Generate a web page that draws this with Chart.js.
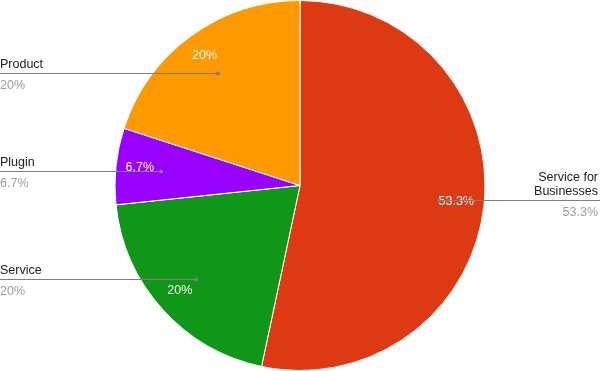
<!DOCTYPE html>
<html lang="en">
<head>
    <meta charset="UTF-8">
    <title>pie</title>
    <script src="https://cdn.jsdelivr.net/npm/chart.js"></script>
    <style>
        html, body { margin: 0; padding: 0; background: #fff; }
        #wrap { width: 600px; height: 371px; position: relative; }
    </style>
</head>
<body>
    <div id="wrap"><canvas id="pieChart"></canvas></div>

    <script>
        const labels = ['Service for Businesses', 'Service', 'Plugin', 'Product']
        const counts = [8, 3, 1, 3]
        const colors = ['#dd3912', '#109618', '#9900ff', '#ff9900']

        const total = counts.reduce((a, b) => a + b, 0)
        function pct(v) {
            const p = Math.round(v / total * 1000) / 10
            return p + '%'
        }

        // labels outside with leader lines, like the google chart
        const sideLabels = {
            id: 'sideLabels',
            afterDraw(chart) {
                const ctx = chart.ctx
                const arcs = chart.getDatasetMeta(0).data
                const w = chart.width
                ctx.save()
                ctx.font = '12.5px "Liberation Sans", Arial, sans-serif'
                arcs.forEach((arc, i) => {
                    const mid = (arc.startAngle + arc.endAngle) / 2
                    const r = arc.outerRadius
                    const cos = Math.cos(mid), sin = Math.sin(mid)

                    // percent inside slice
                    ctx.fillStyle = '#ffffff'
                    ctx.textAlign = 'center'
                    ctx.textBaseline = 'middle'
                    ctx.fillText(pct(counts[i]), arc.x + cos * r * 0.86 - 2, arc.y + sin * r * 0.86 - 1)

                    // leader line
                    const dx = arc.x + cos * r * 0.755
                    const dy = Math.round(arc.y + sin * r * 0.755) + 0.5
                    const right = cos > 0
                    ctx.strokeStyle = '#7f7f7f'
                    ctx.lineWidth = 1
                    ctx.beginPath()
                    ctx.moveTo(dx, dy)
                    ctx.lineTo(right ? w : 0, dy)
                    ctx.stroke()
                    ctx.fillStyle = '#7f7f7f'
                    ctx.beginPath()
                    ctx.arc(dx, dy, 2, 0, Math.PI * 2)
                    ctx.fill()

                    // name and value
                    ctx.textAlign = right ? 'right' : 'left'
                    const tx = right ? w - 2 : 0
                    const words = labels[i] === 'Service for Businesses' ? ['Service for', 'Businesses'] : [labels[i]]
                    ctx.fillStyle = '#222222'
                    ctx.textBaseline = 'alphabetic'
                    words.forEach((line, j) => {
                        ctx.fillText(line, tx, dy - 6 - (words.length - 1 - j) * 14)
                    })
                    ctx.fillStyle = '#9e9e9e'
                    ctx.fillText(pct(counts[i]), tx, dy + 15)
                })
                ctx.restore()
            }
        }

        const pieData = {
            labels: labels,
            datasets: [{
                data: counts,
                backgroundColor: colors,
                borderColor: '#ffffff',
                borderWidth: 1
            }]
        }

        var pieChart = new Chart(document.getElementById('pieChart'), {
            type: 'pie',
            data: pieData,
            options: {
                responsive: true,
                maintainAspectRatio: false,
                animation: false,
                layout: { padding: { top: 0, bottom: 0 } },
                plugins: {
                    legend: { display: false },
                    tooltip: { enabled: false }
                }
            },
            plugins: [sideLabels]
        })
    </script>
</body>
</html>
